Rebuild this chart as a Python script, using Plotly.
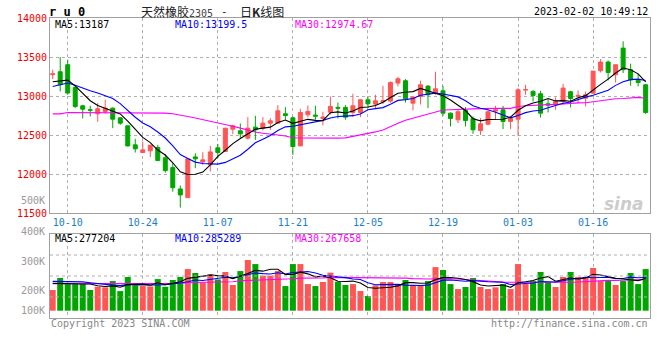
import plotly.graph_objects as go

# ---------------- data ----------------
tick_labels = ["10-10", "10-24", "11-07", "11-21", "12-05", "12-19", "01-03", "01-16"]
tick_index = [2, 12, 22, 32, 42, 52, 62, 72]
price_ticks = [11500, 12000, 12500, 13000, 13500, 14000]

open_ = [13275, 13312, 13402, 13111, 12876, 12825, 12774, 12804, 12846, 12722,
         12620, 12376, 12278, 12300, 12342, 12210, 12085, 11812, 11701, 12222,
         12158, 12120, 12338, 12291, 12577, 12556, 12462, 12603, 12590, 12654,
         12654, 12774, 12722, 12363, 12761, 12757, 12714, 12795, 12855, 12855,
         12791, 12791, 12953, 12898, 12927, 12936, 13167, 13197, 12910, 12996,
         13128, 13039, 13068, 12782, 12697, 12817, 12714, 12560, 12641, 12808,
         12825, 12676, 12705, 13077, 13060, 13030, 12902, 12889, 12932, 13056,
         12996, 12974, 13038, 13325, 13436, 13273, 13615, 13338, 13201, 13145]
close = [13285, 13145, 13039, 12868, 12833, 12820, 12838, 12846, 12705, 12654,
         12363, 12325, 12312, 12372, 12175, 12047, 11828, 11735, 12197, 12197,
         12184, 12286, 12278, 12590, 12620, 12517, 12590, 12568, 12654, 12684,
         12812, 12752, 12355, 12791, 12804, 12744, 12731, 12868, 12846, 12731,
         12876, 12953, 12902, 12940, 12940, 13175, 13222, 12966, 12987, 13145,
         13017, 13094, 12782, 12714, 12800, 12688, 12569, 12646, 12800, 12825,
         12676, 12714, 13081, 13085, 13009, 12782, 12885, 12932, 13103, 12970,
         13009, 13017, 13320, 13436, 13303, 13402, 13338, 13209, 13175, 12790]
high = [13338, 13500, 13466, 13124, 12889, 12876, 12910, 12953, 12855, 12731,
        12620, 12453, 12419, 12372, 12376, 12257, 12141, 11855, 12197, 12269,
        12282, 12363, 12389, 12590, 12633, 12650, 12731, 12748, 12731, 12718,
        12885, 12859, 12740, 12838, 12880, 12876, 12800, 12996, 12919, 12885,
        13030, 12962, 12987, 13017, 13132, 13188, 13248, 13218, 13004, 13197,
        13141, 13312, 13132, 12791, 12834, 12859, 12740, 12718, 12817, 12876,
        12876, 12740, 13102, 13145, 13077, 13068, 12962, 12983, 13158, 13068,
        13073, 13060, 13320, 13474, 13457, 13402, 13701, 13415, 13286, 13154]
low = [13218, 13060, 13017, 12846, 12714, 12740, 12671, 12774, 12590, 12633,
       12355, 12278, 12270, 12218, 12175, 12021, 11777, 11573, 11701, 12077,
       12120, 12034, 12206, 12291, 12513, 12466, 12445, 12440, 12560, 12568,
       12654, 12697, 12248, 12363, 12727, 12697, 12624, 12765, 12714, 12697,
       12731, 12731, 12846, 12834, 12898, 12915, 13124, 12919, 12817, 12893,
       12846, 13017, 12748, 12611, 12654, 12611, 12517, 12504, 12628, 12697,
       12577, 12577, 12492, 13017, 12932, 12726, 12791, 12825, 12889, 12855,
       12910, 12868, 13026, 13303, 13201, 13175, 13295, 13132, 13124, 12773]
volume_k = [178, 281, 229, 229, 229, 178, 206, 201, 255, 169,
            290, 218, 212, 209, 272, 206, 264, 290, 358, 324,
            244, 315, 269, 333, 221, 341, 436, 401, 301, 301,
            341, 212, 401, 401, 229, 212, 247, 327, 249, 221,
            229, 169, 126, 218, 247, 247, 229, 264, 221, 221,
            255, 375, 350, 229, 186, 204, 281, 204, 186, 201,
            229, 186, 401, 229, 255, 333, 247, 204, 290, 333,
            290, 290, 367, 255, 264, 221, 255, 324, 229, 358]

# moving-average values at the left edge (window reaches before the first candle)
ma5_head = [13184, 13197, 13205, 13130]
ma10_head = [13124, 13150, 13167, 13140, 13100, 13070, 13040, 13010, 12970]
ma30_head = [12773, 12773] + [12791] * 12 + [12782, 12782] + [12775, 12760, 12740, 12720, 12700, 12685,
                                                                  12660, 12640, 12615, 12590, 12565, 12540, 12525]
vma5_head = [235, 232, 230, 230]
vma10_head = [252, 252, 250, 250, 248, 240, 232, 225, 220]
vma30_head = [232] * 12 + [235] * 6 + [243] * 4 + [249] * 3 + [258, 260, 262, 263]

ma_legend_price = ["MA5:13187", "MA10:13199.5", "MA30:12974.67"]
ma_legend_vol = ["MA5:277204", "MA10:285289", "MA30:267658"]
vol_axis_labels = ["400K", "300K", "200K", "100K"]


def moving(values, n, head):
    out = list(head)
    for i in range(len(head), len(values)):
        out.append(sum(values[i - n + 1:i + 1]) / n)
    return out


volume = [v * 1000 for v in volume_k]
idx = list(range(len(close)))
ma5 = moving(close, 5, ma5_head)
ma10 = moving(close, 10, ma10_head)
ma30 = moving(close, 30, ma30_head)
vma5 = [v * 1000 for v in moving(volume_k, 5, vma5_head)]
vma10 = [v * 1000 for v in moving(volume_k, 10, vma10_head)]
vma30 = [v * 1000 for v in moving(volume_k, 30, vma30_head)]

RED = "#ff5555"
GREEN = "#00a600"
MONO = "DejaVu Sans Mono"
GRID = "#b0b0b0"
FRAME = "#a0a0a0"

fig = go.Figure()
fig.add_trace(go.Candlestick(
    x=idx, open=open_, high=high, low=low, close=close,
    increasing=dict(line=dict(color=RED, width=1), fillcolor=RED),
    decreasing=dict(line=dict(color=GREEN, width=1), fillcolor=GREEN),
    showlegend=False, hoverinfo="skip", xaxis="x", yaxis="y"))
for series, col in [(ma30, "#ff00ff"), (ma10, "#0000ff"), (ma5, "#000000")]:
    fig.add_trace(go.Scatter(x=idx, y=series, mode="lines", line=dict(color=col, width=1.1),
                             showlegend=False, hoverinfo="skip", xaxis="x", yaxis="y"))

bar_colors = [RED if c >= o else GREEN for o, c in zip(open_, close)]
fig.add_trace(go.Bar(x=idx, y=volume, marker=dict(color=bar_colors, line=dict(width=0)), width=0.8,
                     showlegend=False, hoverinfo="skip", xaxis="x2", yaxis="y2"))
for series, col in [(vma30, "#ff00ff"), (vma10, "#0000ff"), (vma5, "#000000")]:
    fig.add_trace(go.Scatter(x=idx, y=series, mode="lines", line=dict(color=col, width=1.1),
                             showlegend=False, hoverinfo="skip", xaxis="x2", yaxis="y2"))

W, H = 660, 360
ML, MR, MT, MB = 50, 10, 18, 42
PW, PH = W - ML - MR, H - MT - MB


def px(x):
    return (x - ML) / PW


def py(y):
    return (H - MB - y) / PH


xrange_ = [-0.36, 79.58]
axis_common = dict(showline=True, mirror=True, linecolor=FRAME, linewidth=1, zeroline=False,
                   showgrid=True, gridcolor=GRID, griddash="dot", gridwidth=1, fixedrange=True,
                   automargin=False)

fig.update_layout(
    width=W, height=H, margin=dict(l=ML, r=MR, t=MT, b=MB, autoexpand=False),
    paper_bgcolor="white", plot_bgcolor="white", boxgap=0.24, bargap=0.2,
    xaxis=dict(domain=[0, 1], anchor="y", range=xrange_, tickvals=tick_index, ticktext=tick_labels,
               tickfont=dict(family=MONO, size=10, color="#1a80cc"), ticks="", rangeslider=dict(visible=False),
               **axis_common),
    yaxis=dict(domain=[py(213.3), 1], anchor="x", range=[11500, 14000],
               tickvals=price_ticks, ticktext=[str(v) for v in price_ticks],
               tickfont=dict(family=MONO, size=10, color="#ee0000"), ticks="", **axis_common),
    xaxis2=dict(domain=[0, 1], anchor="y2", range=xrange_, tickvals=tick_index, showticklabels=False,
                ticks="", **axis_common),
    yaxis2=dict(domain=[0, py(234)], anchor="x2", range=[-62800, 659600], showticklabels=False,
                ticks="", **{**axis_common, "showgrid": False}),
)

# horizontal dotted grid of the volume panel
for f in [0.25, 0.5, 0.75]:
    fig.add_shape(type="line", xref="x2 domain", yref="y2 domain", x0=0, x1=1, y0=f, y1=f,
                  line=dict(color=GRID, width=1, dash="dot"))

ann = []


def text(x, y, s, color="#000", size=10, family=MONO, xanchor="left", **kw):
    ann.append(dict(x=px(x), y=py(y), xref="paper", yref="paper", text=s, showarrow=False,
                    xanchor=xanchor, yanchor="middle", font=dict(family=family, size=size, color=color), **kw))


text(47, 12, "<b>r u 0</b>", size=12)
text(139, 12, "天然橡胶<span style='font-family:DejaVu Sans Mono;font-size:10px;color:#444'>2305</span>",
     size=12, family="Noto Sans CJK SC", color="#222")
text(219, 12, "-", size=11, color="#222")
text(238, 12, "日<b>K</b>线图", size=12, family="Noto Sans CJK SC", color="#222")
text(650, 12, "2023-02-02 10:49:12", xanchor="right")

legend_x = [53, 173, 293]
for x, s, c in zip(legend_x, ma_legend_price, ["#000", "#0000ff", "#ff00ff"]):
    text(x, 24.5, s, color=c)
for x, s, c in zip(legend_x, ma_legend_vol, ["#000", "#0000ff", "#ff00ff"]):
    text(x, 238.5, s, color=c)

for y, s in zip([231, 261, 290, 310], vol_axis_labels):
    text(47, y, s, color="#999", xanchor="right")
text(47, 200.7, "500K", color="#999", xanchor="right")

text(49, 323.5, "Copyright 2023 SINA.COM", color="#888")
text(650, 323.5, "http://finance.sina.com.cn", color="#888", xanchor="right")
text(646, 204, "<b><i>sina</i></b>", color="rgba(190,190,190,0.8)", size=17, family="DejaVu Sans", xanchor="right")

fig.update_layout(annotations=ann)
fig.write_html("out.html", config={"displayModeBar": False},
               post_script="document.body.style.margin='0';document.body.style.overflow='hidden';")
